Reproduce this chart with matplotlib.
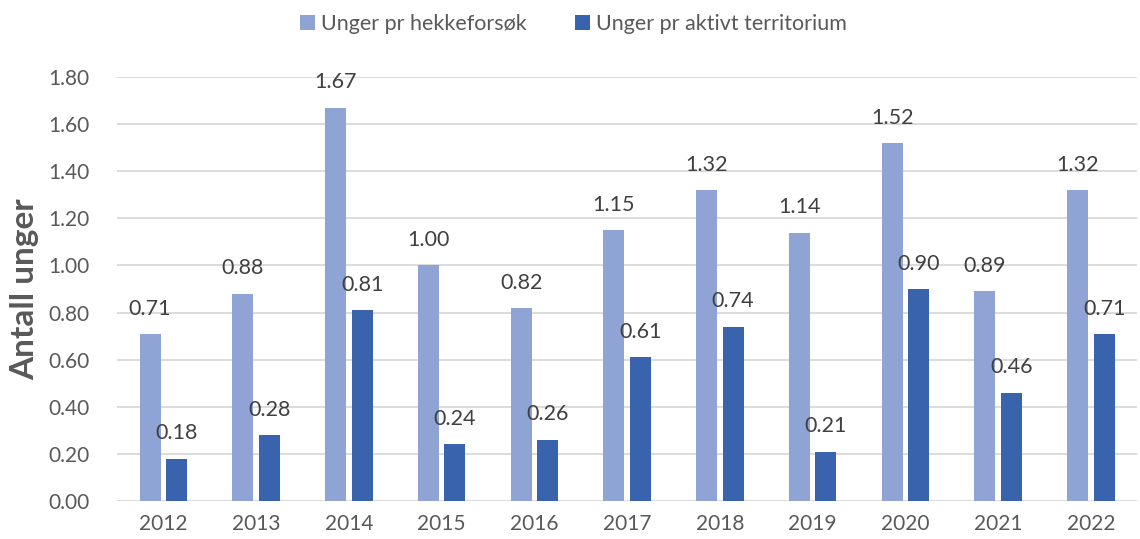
import matplotlib.pyplot as plt
import numpy as np

# Data
years = ["2012", "2013", "2014", "2015", "2016", "2017", "2018", "2019", "2020", "2021", "2022"]
per_attempt = [0.71, 0.88, 1.67, 1.00, 0.82, 1.15, 1.32, 1.14, 1.52, 0.89, 1.32]
per_territory = [0.18, 0.28, 0.81, 0.24, 0.26, 0.61, 0.74, 0.21, 0.90, 0.46, 0.71]
series_names = ["Unger pr hekkeforsøk", "Unger pr aktivt territorium"]

plt.rcParams['font.family'] = ['Lato', 'DejaVu Sans']
text_col = '#595959'
light = '#8FA4D5'
dark = '#3A63AD'

fig = plt.figure(figsize=(11.4, 5.39), dpi=100)
ax = fig.add_axes([0.1026, 0.0705, 0.895, 0.7865])

x = np.arange(len(years))
w = 0.225
off = 0.143
b1 = ax.bar(x - off, per_attempt, w, color=light, label=series_names[0], zorder=3)
b2 = ax.bar(x + off, per_territory, w, color=dark, label=series_names[1], zorder=3)

for bars, vals in [(b1, per_attempt), (b2, per_territory)]:
    for r, v in zip(bars, vals):
        ax.annotate(f"{v:.2f}", (r.get_x() + r.get_width() / 2, v),
                    xytext=(0, 11), textcoords='offset points',
                    ha='center', va='bottom', fontsize=15.5, color='#404040')

ax.set_xlim(-0.5, len(years) - 0.5)
ax.set_ylim(0, 1.8)
ax.set_yticks(np.arange(0, 1.81, 0.2))
ax.set_yticklabels([f"{t:.2f}" for t in np.arange(0, 1.81, 0.2)])
ax.set_xticks(x)
ax.set_xticklabels(years)
ax.tick_params(axis='both', length=0, labelsize=15, colors=text_col)
ax.tick_params(axis='y', pad=20)
ax.tick_params(axis='x', pad=9)
ax.grid(axis='y', color='#D9D9D9', lw=1.3, zorder=0)
for s in ax.spines.values():
    s.set_visible(False)

ax.set_ylabel("Antall unger", fontsize=24, fontweight='bold', color=text_col, labelpad=6)

fig.legend(loc='center', bbox_to_anchor=(0.503, 0.955), ncol=2, frameon=False,
           fontsize=15.5, handlelength=0.7, handleheight=0.7, handletextpad=0.3,
           columnspacing=2.2, labelcolor=text_col)

fig.savefig("out.png", dpi=100)
